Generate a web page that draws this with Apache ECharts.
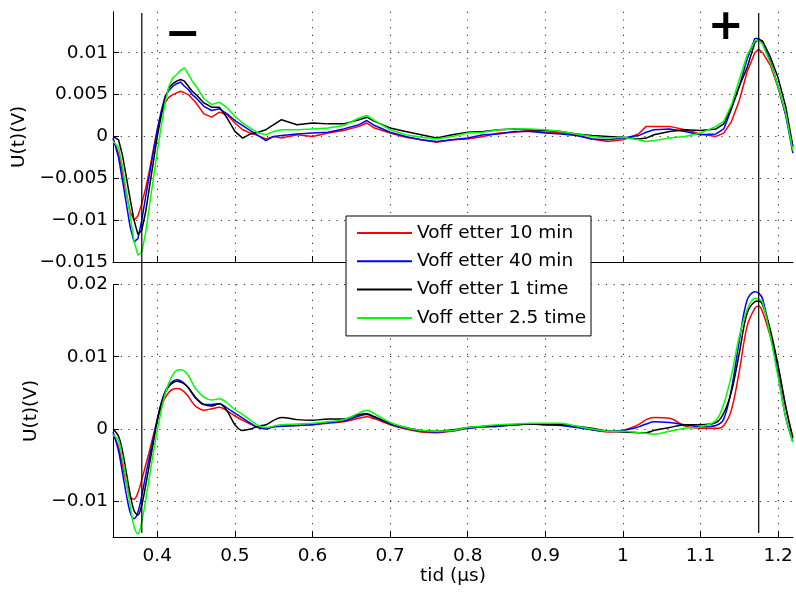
<!DOCTYPE html>
<html><head><meta charset="utf-8">
<script src="https://cdn.jsdelivr.net/npm/echarts@6/dist/echarts.min.js"></script>
<style>html,body{margin:0;padding:0;background:#fff}#c{width:796px;height:592px}</style>
</head><body><div id="c"></div>
<script>
// time axis (µs)
const time = [0.343,0.35,0.355,0.36,0.365,0.37,0.375,0.38,0.385,0.39,0.395,0.40,0.405,0.41,0.415,0.42,0.425,0.43,0.435,0.44,0.445,0.45,0.46,0.47,0.48,0.49,0.50,0.51,0.52,0.53,0.54,0.55,0.56,0.58,0.60,0.62,0.64,0.66,0.67,0.68,0.70,0.72,0.74,0.76,0.78,0.80,0.82,0.84,0.86,0.88,0.90,0.92,0.94,0.96,0.98,1.00,1.02,1.03,1.04,1.06,1.08,1.10,1.12,1.13,1.14,1.15,1.16,1.17,1.175,1.18,1.19,1.20,1.21,1.219];

const seriesNames = ['Voff etter 10 min','Voff etter 40 min','Voff etter 1 time','Voff etter 2.5 time'];
const seriesColors = ['#ff0000','#0000ff','#000000','#00ff00'];

// upper panel (raw)
const rawMin10 = [-0.0003,-0.0020,-0.0042,-0.0068,-0.0090,-0.0100,-0.0095,-0.0080,-0.0062,-0.0040,-0.0015,0.0008,0.0027,0.0040,0.0047,0.0050,0.0052,0.0054,0.0052,0.0050,0.0045,0.0040,0.0027,0.0023,0.0029,0.0026,0.0016,0.0008,0.0004,0.0001,-0.0003,0.0000,-0.0002,0.0002,0.0000,0.0004,0.0007,0.0012,0.0016,0.0010,0.0004,-0.0001,-0.0004,-0.0007,-0.0004,-0.0003,0.0000,0.0004,0.0005,0.0007,0.0005,0.0004,0.0002,-0.0003,-0.0006,-0.0004,0.0003,0.0012,0.0012,0.0012,0.0008,0.0003,0.0000,0.0004,0.0018,0.0043,0.0077,0.0100,0.0104,0.0100,0.0085,0.0058,0.0025,-0.0012];
const rawMin40 = [-0.0002,-0.0025,-0.0052,-0.0080,-0.0108,-0.0126,-0.0122,-0.0100,-0.0072,-0.0045,-0.0018,0.0008,0.0030,0.0048,0.0055,0.0060,0.0063,0.0065,0.0060,0.0056,0.0050,0.0046,0.0036,0.0031,0.0033,0.0027,0.0019,0.0013,0.0007,0.0001,-0.0005,0.0000,0.0001,0.0003,0.0004,0.0005,0.0009,0.0014,0.0019,0.0013,0.0005,0.0000,-0.0004,-0.0006,-0.0004,-0.0002,0.0002,0.0003,0.0006,0.0006,0.0004,0.0003,0.0001,-0.0003,-0.0004,-0.0002,0.0001,0.0005,0.0008,0.0009,0.0006,0.0002,0.0003,0.0009,0.0033,0.0060,0.0092,0.0117,0.0117,0.0112,0.0090,0.0060,0.0025,-0.0020];
const rawTime1 = [0.0000,-0.0004,-0.0022,-0.0048,-0.0075,-0.0100,-0.0117,-0.0112,-0.0090,-0.0060,-0.0030,0.0000,0.0025,0.0045,0.0058,0.0063,0.0066,0.0068,0.0066,0.0060,0.0054,0.0050,0.0040,0.0035,0.0035,0.0022,0.0006,-0.0002,0.0003,0.0005,0.0008,0.0014,0.0020,0.0014,0.0016,0.0015,0.0015,0.0020,0.0023,0.0018,0.0010,0.0006,0.0002,-0.0002,0.0002,0.0005,0.0006,0.0008,0.0009,0.0008,0.0007,0.0006,0.0003,0.0001,0.0000,-0.0001,-0.0003,-0.0002,0.0002,0.0006,0.0008,0.0007,0.0009,0.0015,0.0035,0.0060,0.0082,0.0112,0.0116,0.0114,0.0095,0.0070,0.0035,-0.0012];
const rawTime25 = [-0.0006,-0.0013,-0.0035,-0.0065,-0.0095,-0.0125,-0.0142,-0.0138,-0.0115,-0.0082,-0.0050,-0.0018,0.0012,0.0040,0.0060,0.0070,0.0074,0.0079,0.0082,0.0074,0.0066,0.0060,0.0045,0.0038,0.0041,0.0034,0.0024,0.0016,0.0010,0.0004,0.0002,0.0006,0.0008,0.0008,0.0009,0.0010,0.0013,0.0022,0.0025,0.0019,0.0008,0.0002,-0.0001,-0.0003,0.0000,0.0004,0.0005,0.0008,0.0009,0.0009,0.0008,0.0006,0.0003,0.0000,-0.0002,-0.0001,-0.0004,-0.0006,-0.0005,-0.0002,0.0000,0.0004,0.0012,0.0018,0.0038,0.0068,0.0097,0.0114,0.0115,0.0110,0.0088,0.0060,0.0027,-0.0017];

// lower panel (filtered)
const filtMin10 = [-0.0007,-0.0025,-0.0050,-0.0075,-0.0094,-0.0097,-0.0088,-0.0070,-0.0050,-0.0030,-0.0008,0.0012,0.0030,0.0043,0.0051,0.0055,0.0056,0.0055,0.0051,0.0045,0.0037,0.0031,0.0026,0.0028,0.0030,0.0025,0.0018,0.0012,0.0007,0.0002,0.0001,0.0003,0.0004,0.0005,0.0006,0.0008,0.0010,0.0015,0.0017,0.0014,0.0006,0.0000,-0.0004,-0.0005,-0.0003,0.0001,0.0003,0.0004,0.0006,0.0007,0.0007,0.0006,0.0003,-0.0001,-0.0004,-0.0002,0.0006,0.0013,0.0016,0.0015,0.0004,0.0001,0.0001,0.0005,0.0027,0.0080,0.0142,0.0167,0.0170,0.0162,0.0128,0.0085,0.0030,-0.0011];
const filtMin40 = [-0.0004,-0.0030,-0.0060,-0.0090,-0.0115,-0.0124,-0.0115,-0.0092,-0.0064,-0.0038,-0.0012,0.0014,0.0036,0.0052,0.0061,0.0066,0.0068,0.0067,0.0063,0.0057,0.0049,0.0042,0.0034,0.0034,0.0035,0.0029,0.0022,0.0015,0.0008,0.0002,0.0000,0.0003,0.0004,0.0005,0.0006,0.0009,0.0011,0.0018,0.0020,0.0016,0.0007,0.0001,-0.0003,-0.0004,-0.0002,0.0001,0.0003,0.0004,0.0006,0.0007,0.0006,0.0005,0.0002,-0.0001,-0.0003,-0.0002,0.0003,0.0007,0.0010,0.0009,0.0006,0.0003,0.0005,0.0014,0.0056,0.0122,0.0178,0.0190,0.0188,0.0180,0.0132,0.0075,0.0015,-0.0018];
const filtTime1 = [0.0000,-0.0010,-0.0030,-0.0060,-0.0090,-0.0113,-0.0119,-0.0105,-0.0078,-0.0048,-0.0018,0.0012,0.0034,0.0050,0.0059,0.0064,0.0066,0.0065,0.0062,0.0057,0.0050,0.0043,0.0034,0.0032,0.0035,0.0025,0.0006,-0.0002,0.0000,0.0004,0.0006,0.0012,0.0016,0.0013,0.0012,0.0014,0.0014,0.0020,0.0021,0.0017,0.0008,0.0002,-0.0002,-0.0003,-0.0001,0.0002,0.0004,0.0005,0.0006,0.0007,0.0006,0.0006,0.0004,0.0001,-0.0003,-0.0004,-0.0005,-0.0005,-0.0002,0.0002,0.0006,0.0006,0.0009,0.0022,0.0052,0.0105,0.0160,0.0176,0.0177,0.0172,0.0137,0.0088,0.0030,-0.0013];
const filtTime25 = [-0.0008,-0.0016,-0.0040,-0.0072,-0.0105,-0.0135,-0.0145,-0.0128,-0.0098,-0.0065,-0.0032,-0.0002,0.0025,0.0048,0.0064,0.0075,0.0081,0.0082,0.0080,0.0074,0.0064,0.0055,0.0044,0.0040,0.0042,0.0036,0.0027,0.0020,0.0012,0.0005,0.0002,0.0004,0.0006,0.0007,0.0008,0.0010,0.0013,0.0022,0.0026,0.0021,0.0009,0.0002,-0.0002,-0.0003,-0.0002,0.0002,0.0004,0.0006,0.0007,0.0008,0.0008,0.0008,0.0004,0.0000,-0.0003,-0.0003,-0.0005,-0.0006,-0.0007,-0.0003,0.0001,0.0003,0.0012,0.0035,0.0075,0.0128,0.0165,0.0181,0.0180,0.0175,0.0128,0.0072,0.0015,-0.0018];

// ticks
const xTicks = [0.4,0.5,0.6,0.7,0.8,0.9,1.0,1.1,1.2];
const yTopTicks = [-0.015,-0.01,-0.005,0,0.005,0.01];
const yBotTicks = [-0.01,0,0.01,0.02];
const xRange = [0.3429, 1.2192];
const yTopRange = [-0.015, 0.0149];
const yBotRange = [-0.015, 0.02];
const markerTimes = [0.38, 1.175];
const markerSigns = ['\u2212', '+'];
const signPos = [[0.4325, 0.0120], [1.1325, 0.0130]];

const FONT = 'DejaVu Sans';
const fmt = v => String(Math.round(v * 1e6) / 1e6).replace('-', '\u2212');
const pair = arr => time.map((t, i) => [t, arr[i]]);
const dotted = { color: '#333', width: 1.1, type: [1.2, 6.5] };

function xAxis(gridIndex, showLabels) {
  return {
    type: 'value', gridIndex, min: xRange[0], max: xRange[1],
    name: showLabels ? 'tid (\u03bcs)' : '', nameLocation: 'middle', nameGap: 29,
    nameTextStyle: { fontFamily: FONT, fontSize: 18.5, color: '#000' },
    axisLine: { show: true, onZero: false, lineStyle: { color: '#000', width: 1 } },
    axisTick: { show: true, inside: true, length: 6, lineStyle: { color: '#000' }, customValues: xTicks },
    axisLabel: { show: showLabels, customValues: xTicks, formatter: fmt, margin: 9, fontFamily: FONT, fontSize: 18.5, color: '#000' },
    splitLine: { show: true, lineStyle: dotted }
  };
}
function yAxis(gridIndex, range, ticks, gap) {
  return {
    type: 'value', gridIndex, min: range[0], max: range[1],
    name: 'U(t)(V)', nameLocation: 'middle', nameGap: gap, nameRotate: 90,
    nameTextStyle: { fontFamily: FONT, fontSize: 18.5, color: '#000' },
    axisLine: { show: true, onZero: false, lineStyle: { color: '#000', width: 1 } },
    axisTick: { show: true, inside: true, length: 6, lineStyle: { color: '#000' }, customValues: ticks },
    axisLabel: { show: true, customValues: ticks, formatter: fmt, margin: 5, fontFamily: FONT, fontSize: 18.5, color: '#000' },
    splitLine: { show: true, lineStyle: dotted }
  };
}

const rawSets = [rawMin10, rawMin40, rawTime1, rawTime25];
const filtSets = [filtMin10, filtMin40, filtTime1, filtTime25];
const series = [];
rawSets.forEach((arr, i) => series.push({
  type: 'line', name: seriesNames[i], xAxisIndex: 0, yAxisIndex: 0, data: pair(arr),
  showSymbol: false, symbol: 'none', lineStyle: { color: seriesColors[i], width: 1.5 }, itemStyle: { color: seriesColors[i] }, z: 3
}));
filtSets.forEach((arr, i) => series.push({
  type: 'line', name: seriesNames[i], xAxisIndex: 1, yAxisIndex: 1, data: pair(arr), smooth: 0.35,
  showSymbol: false, symbol: 'none', lineStyle: { color: seriesColors[i], width: 1.5 }, itemStyle: { color: seriesColors[i] }, z: 3
}));
markerTimes.forEach(t => series.push({
  type: 'line', xAxisIndex: 2, yAxisIndex: 2, data: [[t, 0], [t, 1]],
  showSymbol: false, symbol: 'none', lineStyle: { color: '#000', width: 1.2 }, z: 4, silent: true
}));
// +/- annotations placed in data coordinates of upper panel
markerSigns.forEach((s, i) => series.push({
  type: 'scatter', xAxisIndex: 0, yAxisIndex: 0, data: [signPos[i]], symbolSize: 0, z: 5, silent: true,
  itemStyle: { opacity: 1, color: '#000' },
  label: { show: true, position: 'inside', formatter: s, fontFamily: FONT, fontSize: 43, fontWeight: 'bold', color: '#000', opacity: 1 }
}));

const chart = echarts.init(document.getElementById('c'), null, { renderer: 'canvas' });
chart.setOption({
  animation: false,
  backgroundColor: '#fff',
  grid: [
    { left: 113, top: 11.7, width: 680, height: 250.3 },
    { left: 113, top: 284.4, width: 680, height: 253.1 },
    { left: 113, top: 13, width: 680, height: 520 }
  ],
  xAxis: [xAxis(0, false), xAxis(1, true),
    { type: 'value', gridIndex: 2, min: xRange[0], max: xRange[1], show: false }],
  yAxis: [yAxis(0, yTopRange, yTopTicks, 73), yAxis(1, yBotRange, yBotTicks, 67),
    { type: 'value', gridIndex: 2, min: 0, max: 1, show: false }],
  legend: {
    data: seriesNames, orient: 'vertical', left: 346, top: 216,
    icon: 'rect', itemWidth: 55, itemHeight: 2, itemGap: 8.3,
    padding: [7, 5, 8, 11],
    backgroundColor: '#fff', borderColor: '#000', borderWidth: 1, borderRadius: 0,
    textStyle: { fontFamily: FONT, fontSize: 18.5, color: '#000', lineHeight: 20, height: 20 },
    selectedMode: false, z: 10
  },
  series
});
</script></body></html>
